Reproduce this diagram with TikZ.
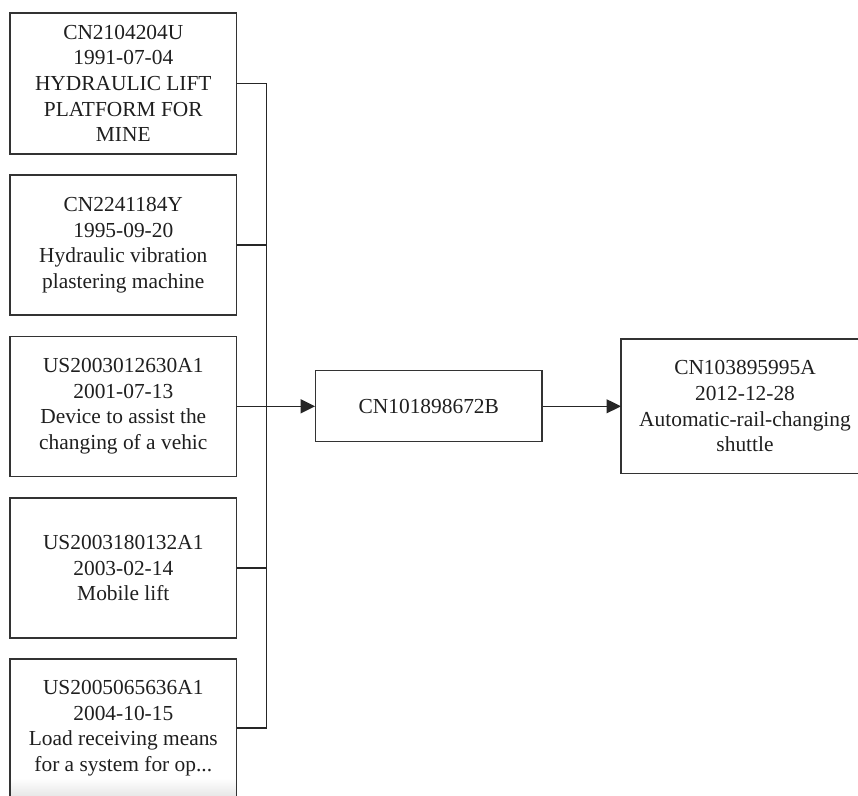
\documentclass[tikz,border=0pt]{standalone}
\usepackage{fontspec}
\setmainfont{Liberation Serif}
\usetikzlibrary{arrows.meta}
\begin{document}
\begin{tikzpicture}[x=1pt,y=-1pt,
  txt/.style={align=center, font=\fontsize{21.4}{25.6}\selectfont, text=black!88, inner sep=0pt},
  pbox/.style={txt, draw=black!80, line width=1.2pt, minimum width=226.5, minimum height=140},
  link/.style={draw=black!85, line width=1.2pt},
  arr/.style={link, -{Triangle[length=14.5pt,width=14pt]}}]
\useasboundingbox (0,0) rectangle (858,795);
\clip (0,0) rectangle (858,795);
\fill[white] (0,0) rectangle (858,795);
% left boxes
\node[pbox, minimum height=141] (b1) at (123.3,83.4) {CN2104204U\\1991-07-04\\HYDRAULIC LIFT\\PLATFORM FOR\\MINE};
\node[pbox] (b2) at (123.3,245) {CN2241184Y\\1995-09-20\\Hydraulic vibration\\plastering machine};
\node[pbox] (b3) at (123.3,406.3) {US2003012630A1\\2001-07-13\\Device to assist the\\changing of a vehic};
\node[pbox] (b4) at (123.3,568) {US2003180132A1\\2003-02-14\\Mobile lift};
\shade[top color=white, bottom color=black!10] (10.6,778) rectangle (236,797);
\node[pbox, minimum height=138] (b5) at (123.3,728) {US2005065636A1\\2004-10-15\\Load receiving means\\for a system for op...};
% middle and right
\node[pbox, minimum width=226.3, minimum height=71] (mid) at (428.8,406.3) {CN101898672B};
\draw[link, draw=black!80] (880,339) -- (621,339) -- (621,473.3) -- (880,473.3);
\coordinate (rw) at (621,406.3);
\node[txt] (right) at (745,406.3) {CN103895995A\\2012-12-28\\Automatic-rail-changing\\shuttle};
% connectors
\coordinate (bus) at (266.7,406.3);
\draw[link] (b1.east) -- (b1.east -| bus) -- (b5.east -| bus) -- (b5.east);
\draw[link] (b2.east) -- (b2.east -| bus);
\draw[link] (b4.east) -- (b4.east -| bus);
\draw[arr, line width=1.6pt] (b3.east) -- (mid.west);
\draw[arr] (mid.east) -- (rw);
\end{tikzpicture}
\end{document}
